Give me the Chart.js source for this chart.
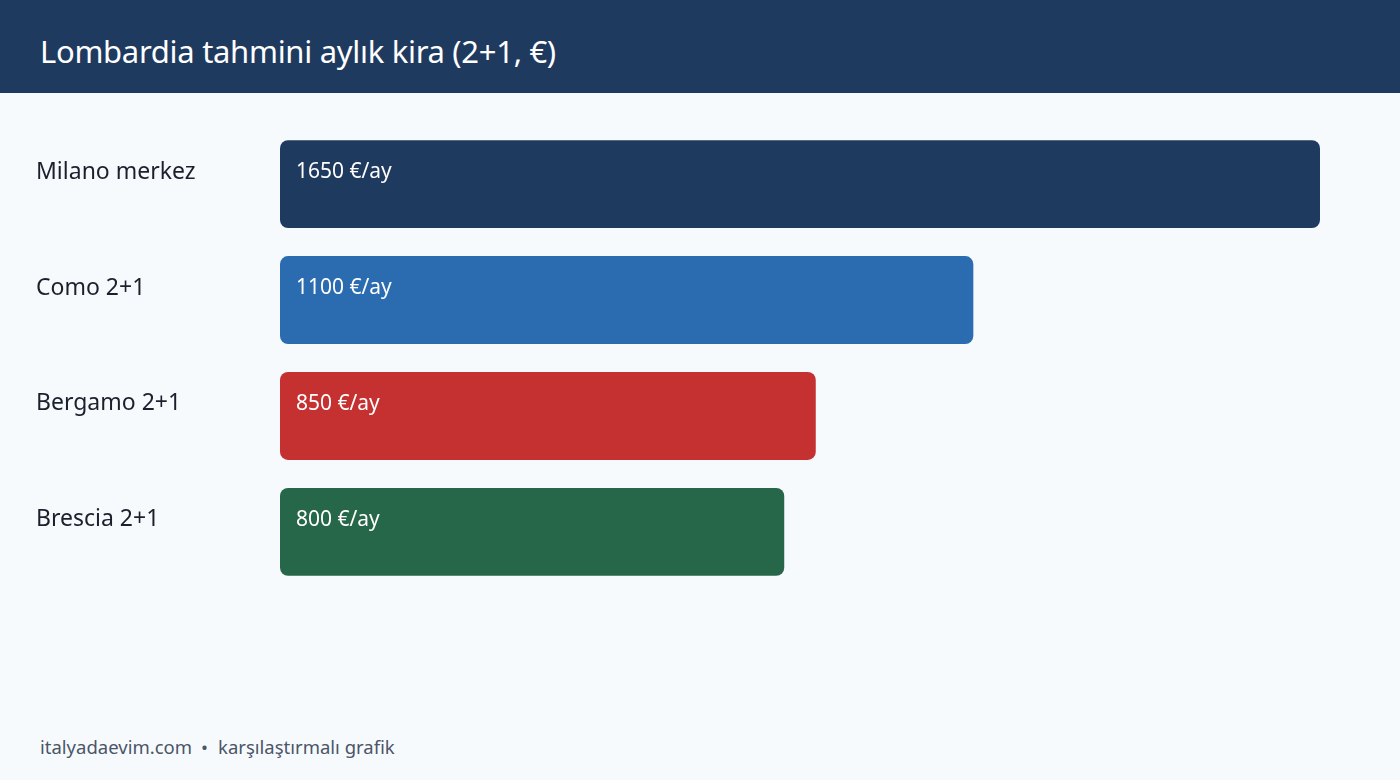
<!DOCTYPE html>
<html lang="tr">
<head>
<meta charset="utf-8">
<title>Lombardia tahmini aylık kira</title>
<script src="https://cdn.jsdelivr.net/npm/chart.js@4.4.1/dist/chart.umd.min.js"></script>
<style>
  html, body { margin: 0; padding: 0; }
  body {
    width: 1400px; height: 780px; overflow: hidden; position: relative;
    background: #f7fafd;
    font-family: "Noto Sans", "Open Sans", sans-serif;
  }
  .header {
    position: absolute; left: 0; top: 0; width: 1400px; height: 93px;
    background: #1f3a5f; color: #ffffff;
  }
  .header h1 {
    margin: 0; position: absolute; left: 40px; top: 30px;
    font-size: 31px; font-weight: 400; line-height: 42px; letter-spacing: -0.3px;
  }
  .chart-box { position: absolute; left: 0; top: 102px; width: 1400px; height: 512px; }
  .footer {
    position: absolute; left: 40px; top: 735px;
    font-size: 18.5px; color: #4a5568; line-height: 24px;
  }
  .footer .dot { display: inline-block; margin: 0 10px 0 9px; }
</style>
</head>
<body>
<div class="header"><h1>Lombardia tahmini aylık kira (2+1, €)</h1></div>
<div class="chart-box"><canvas id="rentChart"></canvas></div>
<div class="footer">italyadaevim.com<span class="dot">•</span>karşılaştırmalı grafik</div>

<script>
// Chart data
const cities = ["Milano merkez", "Como 2+1", "Bergamo 2+1", "Brescia 2+1"];
const rents = [1650, 1100, 850, 800];
const barColors = ["#1f3a5f", "#2b6cb0", "#c53030", "#276749"];
const valueUnit = "€/ay";

// Writes "1650 €/ay" near the top-left of each bar
const valueLabels = {
  id: "valueLabels",
  afterDatasetsDraw(chart) {
    const ctx = chart.ctx;
    const meta = chart.getDatasetMeta(0);
    ctx.save();
    ctx.font = "21px 'Noto Sans', 'Open Sans', sans-serif";
    ctx.fillStyle = "#ffffff";
    ctx.textBaseline = "middle";
    ctx.textAlign = "left";
    meta.data.forEach((bar, i) => {
      const top = bar.y - bar.height / 2;
      ctx.fillText(rents[i] + " " + valueUnit, bar.base + 16, top + 32);
    });
    ctx.restore();
  }
};

document.addEventListener("DOMContentLoaded", () => {
  const ctx = document.getElementById("rentChart").getContext("2d");
  new Chart(ctx, {
    type: "bar",
    data: {
      // second empty line lifts the label to the text line of the bar
      labels: cities.map(c => [c, ""]),
      datasets: [{
        data: rents,
        backgroundColor: barColors,
        borderRadius: 8,
        borderSkipped: false,
        categoryPercentage: 1,
        barPercentage: 88 / 116
      }]
    },
    options: {
      indexAxis: "y",
      responsive: true,
      maintainAspectRatio: false,
      animation: false,
      layout: { padding: { left: 36, right: 80, top: 0, bottom: 0 } },
      plugins: {
        legend: { display: false },
        tooltip: { enabled: false }
      },
      scales: {
        x: {
          display: false,
          min: 0,
          max: 1650
        },
        y: {
          grid: { display: false },
          border: { display: false },
          ticks: {
            crossAlign: "far",
            color: "#1a202c",
            padding: 0,
            font: { family: "'Noto Sans', 'Open Sans', sans-serif", size: 23, lineHeight: 1.05 }
          },
          afterFit: (scale) => { scale.width = 244; }
        }
      }
    },
    plugins: [valueLabels]
  });
});
</script>
</body>
</html>
